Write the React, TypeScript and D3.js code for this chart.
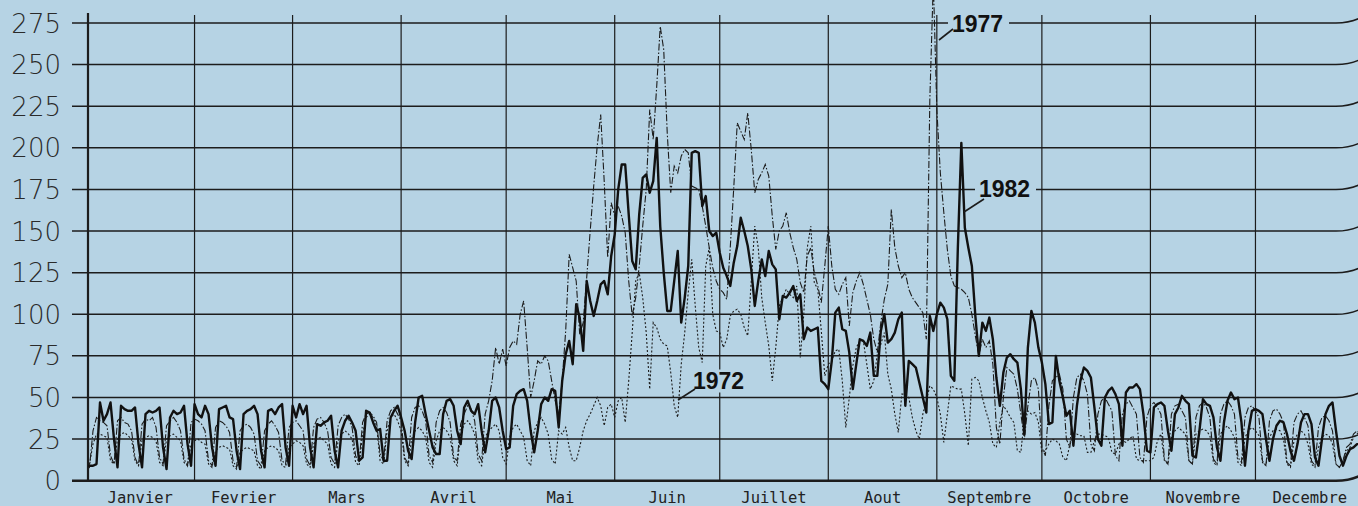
import React from "react";
import * as d3 from "d3";

const W = 1358;
const H = 506;
const BG = "#b6d3e4";
const INK = "#1c1c1c";

const months = ["Janvier", "Fevrier", "Mars", "Avril", "Mai", "Juin", "Juillet", "Aout", "Septembre", "Octobre", "Novembre", "Decembre"];
const monthDays = [31, 28, 31, 30, 31, 30, 31, 31, 30, 31, 30, 31];
const yTicks = [0, 25, 50, 75, 100, 125, 150, 175, 200, 225, 250, 275];

const v1982 = [
  9,9,9,10,47,36,40,47,25,8,45,43,42,42,44,22,8,40,42,41,42,44,20,7,38,42,40,41,45,22,9,
  46,40,38,45,40,20,9,43,44,45,38,37,18,7,40,42,43,45,40,18,8,42,43,40,44,46,20,9,
  45,38,46,40,45,20,8,34,33,35,36,39,18,8,30,36,39,35,30,12,14,42,41,35,30,31,12,12,38,42,45,
  38,30,18,13,35,50,51,40,30,20,16,16,40,48,49,45,30,22,44,48,42,40,46,30,17,30,48,50,44,30,
  19,20,45,52,54,55,48,30,17,30,46,50,48,55,54,32,60,76,84,70,106,98,78,120,108,99,108,118,120,112,135,
  148,175,190,190,160,132,127,160,182,184,173,180,206,153,125,102,102,120,138,95,110,129,197,198,197,165,171,150,147,149,
  137,128,123,117,131,141,158,150,141,127,105,120,133,123,138,130,127,97,111,110,113,117,108,112,85,92,90,91,92,60,58,
  55,72,101,104,91,90,77,55,70,85,84,81,89,63,63,90,100,83,85,89,97,101,45,72,70,68,59,50,41,99,90,
  100,107,104,97,63,60,140,203,152,140,129,99,75,95,90,98,85,62,45,65,74,76,73,71,55,28,80,102,95,80,
  71,58,34,35,75,60,50,39,42,21,45,60,68,66,62,44,25,21,50,54,56,52,46,21,53,56,56,58,55,40,18,
  17,44,46,47,45,30,18,40,44,51,48,46,15,14,30,49,46,45,38,20,12,35,48,53,49,50,35,9,30,42,
  43,42,40,25,12,25,33,36,35,28,18,12,22,35,40,40,34,14,9,25,40,45,47,30,15,9,15,19,20,22,22,
];

const v1977 = [
  10,8,30,38,36,35,33,15,10,36,38,35,34,30,14,9,34,37,36,38,32,14,10,33,36,38,35,30,13,9,35,
  37,36,34,30,12,9,32,36,35,33,29,12,8,30,33,34,32,28,12,9,30,34,36,33,29,12,10,32,
  35,36,33,30,13,9,32,37,38,35,30,14,10,33,38,40,37,32,15,11,35,40,41,39,35,16,12,36,42,44,40,
  36,14,10,38,44,45,42,36,15,11,35,42,44,41,35,14,12,34,40,45,43,36,16,12,40,48,60,80,70,79,
  69,80,84,82,100,108,80,50,60,72,70,75,72,60,48,40,60,90,136,128,120,88,95,122,150,177,201,220,180,134,167,
  159,165,159,149,120,99,110,129,153,175,223,205,237,273,259,209,173,189,185,195,199,197,177,176,175,165,153,140,128,120,
  115,113,109,140,176,215,210,205,221,199,173,181,185,190,183,159,139,150,153,161,149,140,133,119,113,135,140,125,117,107,129,
  153,129,115,112,118,122,93,113,120,125,118,109,100,85,77,95,109,118,163,140,129,122,125,115,110,107,104,101,85,229,300,
  223,185,161,139,123,117,116,115,113,110,100,87,75,85,80,84,70,32,22,50,68,66,64,55,40,25,45,60,62,55,
  20,15,45,60,62,64,55,25,20,50,62,64,60,52,22,18,40,48,50,46,42,15,12,40,46,48,44,40,14,11,38,
  45,47,44,40,13,10,40,45,46,42,38,12,10,38,45,47,44,38,13,10,40,46,48,45,40,14,11,38,44,45,
  42,38,12,9,36,42,43,40,35,11,9,35,40,42,38,33,12,9,32,38,39,36,30,10,8,12,20,22,28,30,28,
];

const v1972 = [
  12,10,22,28,28,27,26,12,10,25,28,29,27,25,12,9,24,26,27,26,24,11,9,25,27,28,26,24,11,9,22,
  24,25,23,22,10,8,18,20,21,20,19,9,7,17,19,20,19,18,9,7,18,20,21,20,18,9,8,20,
  22,24,23,21,10,8,22,25,26,24,22,10,8,24,28,30,28,25,11,9,28,38,40,38,33,12,10,30,38,40,36,
  30,12,9,25,30,32,30,26,11,8,24,30,32,30,26,12,9,28,34,36,33,28,12,9,26,30,32,34,30,14,
  10,26,32,34,30,26,12,9,30,35,38,34,28,13,10,30,28,32,20,12,12,20,30,36,40,45,50,45,33,44,46,
  38,48,50,35,60,89,120,125,110,89,55,95,92,85,82,81,65,45,38,70,89,113,133,105,80,71,129,140,100,90,
  89,80,85,99,102,103,100,92,87,120,153,140,110,95,81,60,80,105,110,115,112,110,117,74,100,140,153,119,115,90,63,
  70,72,78,79,60,32,50,69,80,84,84,70,55,60,76,82,89,64,55,40,29,52,52,50,38,30,25,40,48,57,55,
  50,40,23,40,57,56,55,55,40,21,61,62,60,50,42,35,22,20,35,45,42,38,35,18,17,38,42,40,41,35,
  17,18,22,25,24,22,14,12,22,26,28,27,27,17,17,24,28,28,27,26,17,16,22,24,23,25,27,13,12,12,12,
  12,14,24,28,12,10,26,30,32,30,28,12,10,28,30,31,30,27,11,9,28,31,33,30,26,11,9,26,30,32,
  30,27,11,9,26,30,31,30,25,10,8,24,28,30,28,22,10,8,20,26,28,27,22,10,8,12,18,20,26,28,30,
];

const seriesLabels = [
  { name: "1977", tx: 952, ty: 31.5, lx1: 953, ly1: 29, lx2: 939, ly2: 40 },
  { name: "1982", tx: 979, ty: 197, lx1: 984, ly1: 199, lx2: 964, ly2: 212 },
  { name: "1972", tx: 693, ty: 388.5, lx1: 695, ly1: 389, lx2: 678, ly2: 400 },
];

export default function App() {
  const x = d3.scaleLinear().domain([0, 365]).range([86, 1364]);
  const y = d3.scaleLinear().domain([0, 275]).range([480.7, 23]);
  const axisX = 88;
  const gridLeft = 72;

  const monthStarts: number[] = [];
  let acc = 0;
  monthDays.forEach((d) => {
    monthStarts.push(acc);
    acc += d;
  });

  const line = d3
    .line<number>()
    .x((_, i) => x(i))
    .y((v) => y(v));

  const hPath = (yy: number) =>
    `M${gridLeft},${yy} L${W - 22},${yy} Q${W - 8},${yy} ${W + 2},${yy - 5}`;

  return (
    <svg
      width={W}
      height={H}
      style={{ position: "absolute", left: 0, top: 0, display: "block" }}
    >
      <defs>
        <clipPath id="plot">
          <rect x={axisX} y={-40} width={W - axisX} height={480.7 + 40} />
        </clipPath>
      </defs>
      <rect x={0} y={0} width={W} height={H} fill={BG} />

      {yTicks.map((t) => (
        <path
          key={"h" + t}
          d={hPath(y(t))}
          fill="none"
          stroke={INK}
          strokeWidth={t === 0 ? 2.6 : 1.5}
        />
      ))}

      {monthStarts.slice(1).map((s, i) => (
        <line
          key={"v" + i}
          x1={x(s)}
          x2={x(s)}
          y1={15}
          y2={480.7}
          stroke={INK}
          strokeWidth={1.2}
        />
      ))}
      <line x1={axisX} x2={axisX} y1={13} y2={481.5} stroke={INK} strokeWidth={2.2} />

      {yTicks.map((t) => (
        <text
          key={"yl" + t}
          x={61}
          y={y(t)}
          dy="0.37em"
          textAnchor="end"
          fontFamily="'DejaVu Sans ExtraLight', 'DejaVu Sans', sans-serif"
          fontWeight={200}
          fontSize={26}
          fill="#2a2a2a"
        >
          {t}
        </text>
      ))}

      {months.map((m, i) => (
        <text
          key={m}
          x={(x(monthStarts[i]) + x(monthStarts[i] + monthDays[i])) / 2}
          y={502.5}
          textAnchor="middle"
          fontFamily="'DejaVu Sans Mono', monospace"
          fontSize={15.5}
          fill="#222"
        >
          {m}
        </text>
      ))}

      <g clipPath="url(#plot)">
        <path
          d={line(v1972) || ""}
          fill="none"
          stroke={INK}
          strokeWidth={1.1}
          strokeDasharray="2 2"
        />
        <path
          d={line(v1977) || ""}
          fill="none"
          stroke={INK}
          strokeWidth={1.1}
          strokeDasharray="7 2 1.5 2"
        />
        <path
          d={line(v1982) || ""}
          fill="none"
          stroke="#111"
          strokeWidth={2.4}
          strokeLinejoin="round"
        />
      </g>

      {seriesLabels.map((s) => (
        <g key={s.name}>
          <rect x={s.tx - 4} y={s.ty - 19} width={61} height={23} fill={BG} />
          <text
            x={s.tx}
            y={s.ty}
            fontFamily="'Liberation Sans', Arial, sans-serif"
            fontWeight={700}
            fontSize={23}
            fill="#111"
          >
            {s.name}
          </text>
          <line x1={s.lx1} y1={s.ly1} x2={s.lx2} y2={s.ly2} stroke={INK} strokeWidth={1.6} />
        </g>
      ))}
    </svg>
  );
}
